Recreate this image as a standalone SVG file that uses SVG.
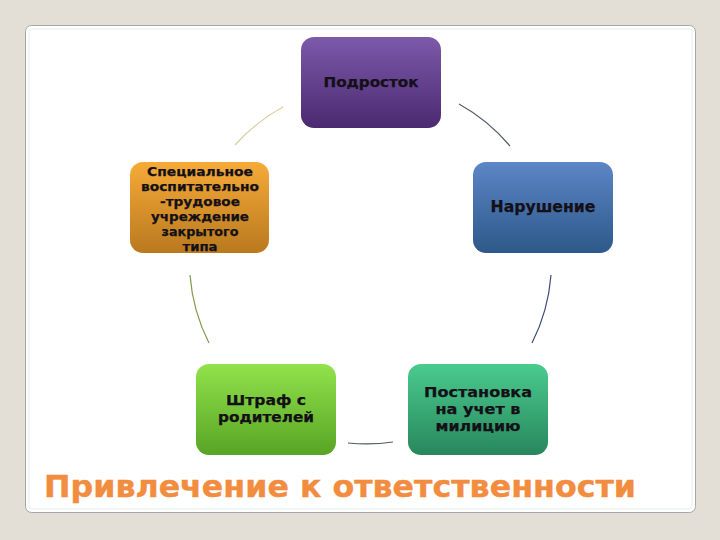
<svg xmlns="http://www.w3.org/2000/svg" width="720" height="540" viewBox="0 0 720 540">
  <defs>
    <linearGradient id="gPurple" x1="0" y1="0" x2="0" y2="1">
      <stop offset="0" stop-color="#7d59aa"/>
      <stop offset="1" stop-color="#4a2a70"/>
    </linearGradient>
    <linearGradient id="gOrange" x1="0" y1="0" x2="0" y2="1">
      <stop offset="0" stop-color="#f6ab38"/>
      <stop offset="1" stop-color="#b9791f"/>
    </linearGradient>
    <linearGradient id="gBlue" x1="0" y1="0" x2="0" y2="1">
      <stop offset="0" stop-color="#5c86c6"/>
      <stop offset="1" stop-color="#2d5889"/>
    </linearGradient>
    <linearGradient id="gGreen" x1="0" y1="0" x2="0" y2="1">
      <stop offset="0" stop-color="#92e24c"/>
      <stop offset="1" stop-color="#58a424"/>
    </linearGradient>
    <linearGradient id="gTeal" x1="0" y1="0" x2="0" y2="1">
      <stop offset="0" stop-color="#4acb8e"/>
      <stop offset="1" stop-color="#28875d"/>
    </linearGradient>
  </defs>
  <style>
    .node { stroke: none; }
    .lbl { font-family: "DejaVu Sans", Verdana, sans-serif; font-weight: bold; fill: #141018; stroke: #141018; stroke-width: 0.25; text-anchor: middle; }
    .arc { fill: none; stroke-width: 1.2; }
    .title { font-family: "DejaVu Sans", Verdana, sans-serif; font-weight: bold; fill: #f28c3e; stroke: #f28c3e; stroke-width: 0.4; font-size: 30px; }
  </style>

  <rect x="0" y="0" width="720" height="540" fill="#e4dfd6"/>
  <rect x="25.5" y="25.5" width="670" height="487" rx="6" fill="#ffffff" stroke="#a8a6a2" stroke-width="1"/>
  <rect x="29" y="29" width="663" height="480" rx="4" fill="none" stroke="#eef2f4" stroke-width="1.5"/>

  <g id="connectors">
    <path class="arc" d="M235,145 A181,181 0 0 1 283,107" stroke="#dccba0"/>
    <path class="arc" d="M459,104 A181,181 0 0 1 510,146" stroke="#555b68"/>
    <path class="arc" d="M551,275 A181,181 0 0 1 532,343" stroke="#3b4a72"/>
    <path class="arc" d="M393,442 A181,181 0 0 1 348,443" stroke="#4c5c62"/>
    <path class="arc" d="M209,343 A181,181 0 0 1 190,275" stroke="#7e9a4a"/>
  </g>

  <g id="node-podrostok">
    <rect class="node" x="301" y="37" width="140" height="91" rx="13" fill="url(#gPurple)"/>
    <text class="lbl" x="371" y="87" font-size="14" textLength="95" lengthAdjust="spacingAndGlyphs">Подросток</text>
  </g>

  <g id="node-narushenie">
    <rect class="node" x="473" y="162" width="140" height="91" rx="13" fill="url(#gBlue)"/>
    <text class="lbl" x="543" y="212" font-size="15" textLength="105" lengthAdjust="spacingAndGlyphs">Нарушение</text>
  </g>

  <g id="node-postanovka">
    <rect class="node" x="408" y="364" width="140" height="91" rx="13" fill="url(#gTeal)"/>
    <text class="lbl" x="478" y="397" font-size="14" textLength="108" lengthAdjust="spacingAndGlyphs">Постановка</text>
    <text class="lbl" x="478" y="414" font-size="14" textLength="85" lengthAdjust="spacingAndGlyphs">на учет в</text>
    <text class="lbl" x="478" y="431" font-size="14" textLength="85" lengthAdjust="spacingAndGlyphs">милицию</text>
  </g>

  <g id="node-shtraf">
    <rect class="node" x="196" y="364" width="140" height="91" rx="13" fill="url(#gGreen)"/>
    <text class="lbl" x="266" y="405" font-size="14" textLength="80" lengthAdjust="spacingAndGlyphs">Штраф с</text>
    <text class="lbl" x="266" y="422" font-size="14" textLength="96" lengthAdjust="spacingAndGlyphs">родителей</text>
  </g>

  <g id="node-specialnoe">
    <rect class="node" x="130" y="162" width="139" height="91" rx="13" fill="url(#gOrange)"/>
    <text class="lbl" x="200" y="176" font-size="13" textLength="106" lengthAdjust="spacingAndGlyphs">Специальное</text>
    <text class="lbl" x="200" y="191" font-size="13" textLength="118" lengthAdjust="spacingAndGlyphs">воспитательно</text>
    <text class="lbl" x="200" y="206" font-size="13" textLength="80" lengthAdjust="spacingAndGlyphs">-трудовое</text>
    <text class="lbl" x="200" y="221" font-size="13" textLength="98" lengthAdjust="spacingAndGlyphs">учреждение</text>
    <text class="lbl" x="200" y="236" font-size="13" textLength="77" lengthAdjust="spacingAndGlyphs">закрытого</text>
    <text class="lbl" x="200" y="251" font-size="13" textLength="35" lengthAdjust="spacingAndGlyphs">типа</text>
  </g>

  <text class="title" x="44" y="497" textLength="592" lengthAdjust="spacingAndGlyphs">Привлечение к ответственности</text>
</svg>
